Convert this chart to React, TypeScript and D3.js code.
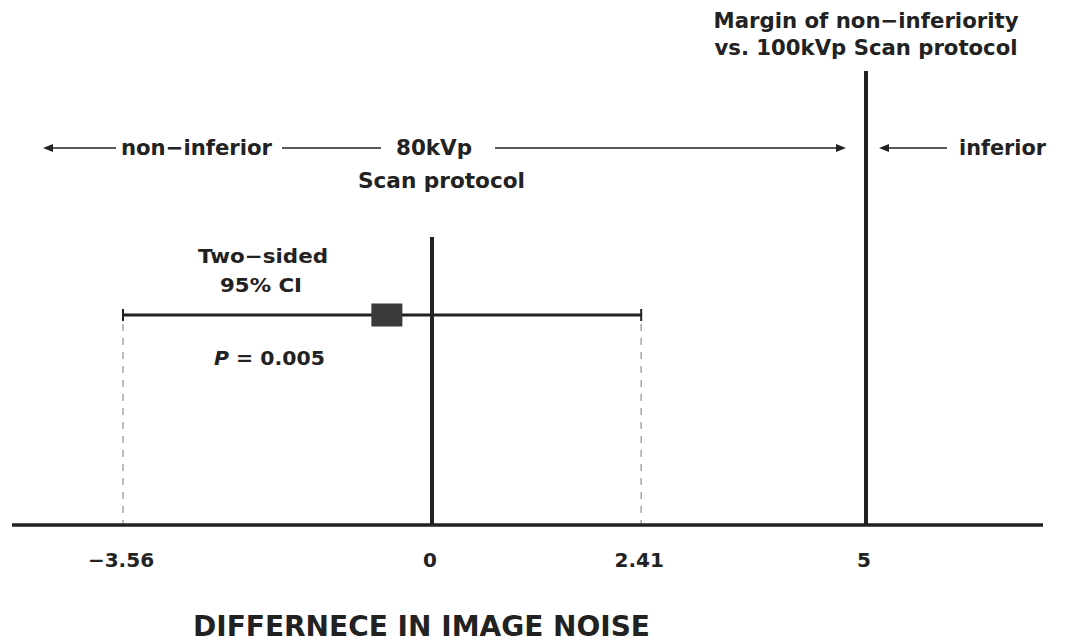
import React from "react";
import * as d3 from "d3";

// ---- data ----
const tickValues = [-3.56, 0, 2.41, 5];
const tickLabels = ["−3.56", "0", "2.41", "5"];
const ciLow = -3.56;
const ciHigh = 2.41;
const pointEstimate = -0.52;
const margin = 5;
const reference = 0;
const pValueLabel = "0.005";
const axisTitle = "DIFFERNECE IN IMAGE NOISE";

const W = 1065;
const H = 644;
const INK = "#222222";
const FONT = "'DejaVu Sans', 'Liberation Sans', Arial, sans-serif";

export default function App() {
  const x = d3.scaleLinear().domain([ciLow, margin]).range([123, 866]);
  const axisY = 525;
  const ciY = 315;

  const arrowHead = (tipX: number, y: number, dir: number) => {
    const p = d3.path();
    p.moveTo(tipX, y);
    p.lineTo(tipX - dir * 10, y - 4);
    p.lineTo(tipX - dir * 10, y + 4);
    p.closePath();
    return p.toString();
  };

  const arrowY = 148;

  const txt = (
    content: React.ReactNode,
    xPos: number,
    y: number,
    size: number,
    anchor: "start" | "middle" | "end",
    len?: number
  ) => (
    <text
      x={xPos}
      y={y}
      fontFamily={FONT}
      fontWeight="bold"
      fontSize={size}
      fill={INK}
      textAnchor={anchor}
      textLength={len}
      lengthAdjust="spacingAndGlyphs"
    >
      {content}
    </text>
  );

  return (
    <svg
      width={W}
      height={H}
      style={{ position: "absolute", left: 0, top: 0, background: "#fff" }}
    >
      <rect width={W} height={H} fill="#fff" />

      {/* dashed CI drop lines */}
      {[ciLow, ciHigh].map((v, i) => (
        <line
          key={i}
          x1={x(v)}
          x2={x(v)}
          y1={ciY + 9}
          y2={axisY}
          stroke="#aaaaaa"
          strokeWidth={1.6}
          strokeDasharray="7 7"
        />
      ))}

      {/* axis line */}
      <line x1={12} x2={1043} y1={axisY} y2={axisY} stroke={INK} strokeWidth={3.5} />

      {/* zero reference line */}
      <line x1={x(reference)} x2={x(reference)} y1={237} y2={axisY} stroke={INK} strokeWidth={4} />

      {/* margin line */}
      <line x1={x(margin)} x2={x(margin)} y1={71} y2={axisY} stroke={INK} strokeWidth={4} />

      {/* CI line */}
      <line x1={x(ciLow)} x2={x(ciHigh)} y1={ciY} y2={ciY} stroke={INK} strokeWidth={3} />
      {[ciLow, ciHigh].map((v, i) => (
        <line key={i} x1={x(v)} x2={x(v)} y1={ciY - 6} y2={ciY + 6} stroke={INK} strokeWidth={2} />
      ))}

      {/* point estimate */}
      <rect
        x={x(pointEstimate) - 15.5}
        y={ciY - 11.5}
        width={31}
        height={23}
        fill="#3a3a3a"
      />

      {/* arrows */}
      <line x1={50} x2={116} y1={arrowY} y2={arrowY} stroke={INK} strokeWidth={1.6} />
      <path d={arrowHead(43, arrowY, -1)} fill={INK} />
      <line x1={282} x2={381} y1={arrowY} y2={arrowY} stroke={INK} strokeWidth={1.6} />
      <line x1={495} x2={838} y1={arrowY} y2={arrowY} stroke={INK} strokeWidth={1.6} />
      <path d={arrowHead(846, arrowY, 1)} fill={INK} />
      <line x1={886} x2={947} y1={arrowY} y2={arrowY} stroke={INK} strokeWidth={1.6} />
      <path d={arrowHead(879, arrowY, -1)} fill={INK} />

      {/* annotations */}
      {txt("Margin of non−inferiority", 866, 28, 21, "middle", 305)}
      {txt("vs. 100kVp Scan protocol", 866, 55, 21, "middle", 303)}
      {txt("non−inferior", 121, 155, 21, "start", 151)}
      {txt("80kVp", 396, 155, 21, "start", 76)}
      {txt("Scan protocol", 358, 188, 21, "start", 167)}
      {txt("inferior", 959, 155, 21, "start", 87)}
      {txt("Two−sided", 198, 263, 20, "start", 130)}
      {txt("95% CI", 220, 292, 20, "start", 82)}
      <text
        x={214}
        y={365}
        fontFamily={FONT}
        fontWeight="bold"
        fontSize={20}
        fill={INK}
        textLength={111}
        lengthAdjust="spacingAndGlyphs"
      >
        <tspan fontStyle="italic">P</tspan>
        {` = ${pValueLabel}`}
      </text>

      {/* tick labels */}
      {tickValues.map((v, i) =>
        <React.Fragment key={i}>{txt(tickLabels[i], x(v) - 2, 567, 20, "middle")}</React.Fragment>
      )}

      {/* axis title */}
      {txt(axisTitle, 193, 636, 28, "start", 457)}
    </svg>
  );
}
